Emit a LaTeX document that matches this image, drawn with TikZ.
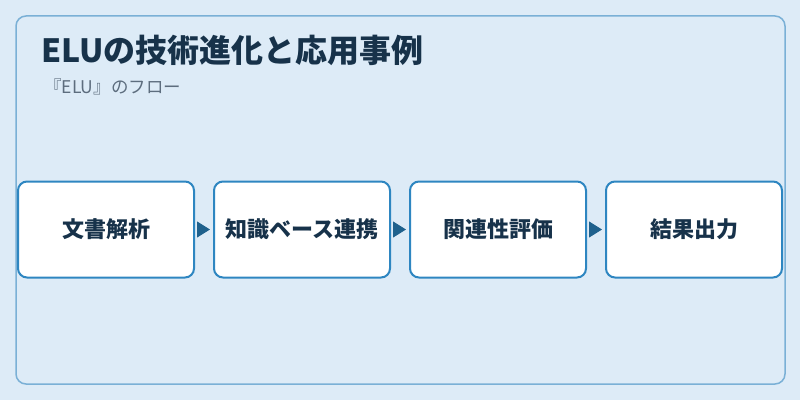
\documentclass[tikz,border=0pt]{standalone}
\usepackage{fontspec}
\setmainfont{Noto Sans CJK JP}
\usepackage{xcolor}
\usepackage{tikz}
\usetikzlibrary{positioning,arrows.meta}

\definecolor{bgblue}{RGB}{221,235,247}
\definecolor{panelline}{RGB}{122,176,214}
\definecolor{boxline}{RGB}{46,134,193}
\definecolor{arrowblue}{RGB}{31,97,141}
\definecolor{titleink}{RGB}{23,50,74}
\definecolor{subink}{RGB}{93,109,126}

\begin{document}
\begin{tikzpicture}[x=1pt, y=1pt,
    stepbox/.style={draw=boxline, line width=2pt, fill=white, rounded corners=9pt,
        minimum width=176pt, minimum height=96pt, inner sep=0pt,
        font=\fontsize{22}{26}\selectfont\bfseries, text=titleink},
    flow/.style={-{Triangle[length=13pt,width=16pt]}, arrowblue, line width=1pt,
        shorten <=4pt, shorten >=3pt}]

    %background and panel
    \fill[bgblue] (0,0) rectangle (800,400);
    \draw[panelline, line width=1.5pt, rounded corners=10pt] (16,16) rectangle (785,384);
    \useasboundingbox (0,0) rectangle (800,400);

    %title
    \node[anchor=west, inner sep=0pt, text=titleink, font=\fontsize{32}{36}\selectfont\bfseries]
        (title) at (41,350) {ELUの技術進化と応用事例};
    \node[anchor=west, inner sep=0pt, text=subink, font=\fontsize{17.5}{21}\selectfont]
        (subtitle) at (44,313) {『ELU』のフロー};

    %steps
    \node[stepbox] (parse) at (106,170.5) {文書解析};
    \node[stepbox, right=18pt of parse] (kb) {知識ベース連携};
    \node[stepbox, right=18pt of kb] (rel) {関連性評価};
    \node[stepbox, right=18pt of rel] (out) {結果出力};

    %arrows
    \draw[flow] (parse) -- (kb);
    \draw[flow] (kb) -- (rel);
    \draw[flow] (rel) -- (out);

\end{tikzpicture}
\end{document}
